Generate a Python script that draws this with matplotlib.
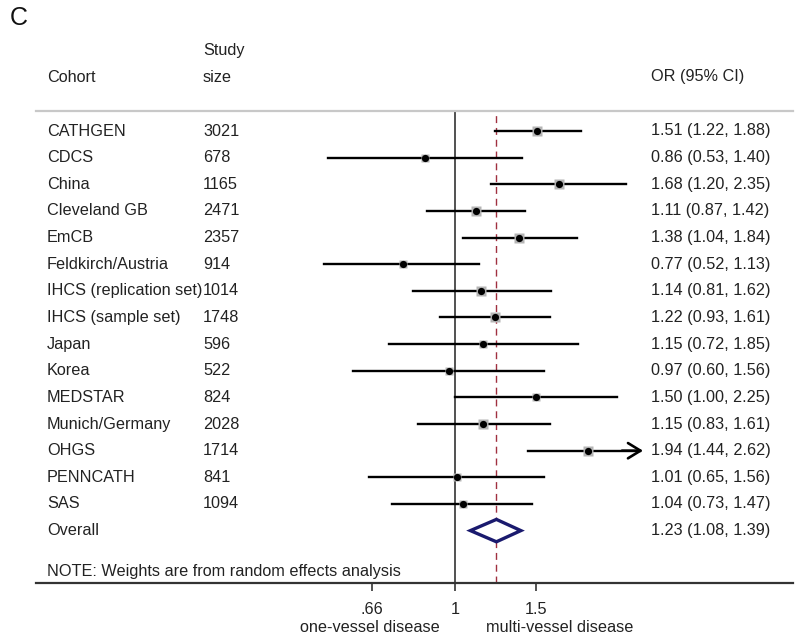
import numpy as np
import matplotlib
matplotlib.use("Agg")
import matplotlib.pyplot as plt
from matplotlib.transforms import blended_transform_factory
from matplotlib.patches import Polygon

plt.rcParams['font.family'] = ['Liberation Sans', 'DejaVu Sans']

# ---------------- data ----------------
cohorts = ["CATHGEN", "CDCS", "China", "Cleveland GB", "EmCB", "Feldkirch/Austria",
           "IHCS (replication set)", "IHCS (sample set)", "Japan", "Korea", "MEDSTAR",
           "Munich/Germany", "OHGS", "PENNCATH", "SAS"]
study_size = [3021, 678, 1165, 2471, 2357, 914, 1014, 1748, 596, 522, 824, 2028, 1714, 841, 1094]
or_est = [1.51, 0.86, 1.68, 1.11, 1.38, 0.77, 1.14, 1.22, 1.15, 0.97, 1.50, 1.15, 1.94, 1.01, 1.04]
ci_low = [1.22, 0.53, 1.20, 0.87, 1.04, 0.52, 0.81, 0.93, 0.72, 0.60, 1.00, 0.83, 1.44, 0.65, 0.73]
ci_high = [1.88, 1.40, 2.35, 1.42, 1.84, 1.13, 1.62, 1.61, 1.85, 1.56, 2.25, 1.61, 2.62, 1.56, 1.47]
weights = [9.0, 5.8, 8.5, 8.5, 7.5, 5.0, 6.8, 8.5, 5.8, 5.8, 4.8, 7.0, 8.0, 5.8, 5.8]
overall = (1.23, 1.08, 1.39)
xticks = [0.66, 1, 1.5]
xticklabels = [".66", "1", "1.5"]

# ---------------- layout ----------------
W, H = 800, 637
fig = plt.figure(figsize=(W / 100, H / 100), dpi=100)

ax_left, ax_right = 36, 793
ax_top, ax_bot = 111, 583
ax = fig.add_axes([ax_left / W, 1 - ax_bot / H, (ax_right - ax_left) / W, (ax_bot - ax_top) / H])
ax.set_xscale('log')
px_per_ln = 200.0
x_one = 455
ax.set_xlim(np.exp((ax_left - x_one) / px_per_ln), np.exp((ax_right - x_one) / px_per_ln))
clip_max = np.exp((643 - x_one) / px_per_ln)

row_px0, row_step = 131, 26.64
ax.set_ylim(1 + (ax_bot - row_px0) / row_step, 1 + (ax_top - row_px0) / row_step)

for s in ['left', 'right']:
    ax.spines[s].set_visible(False)
ax.spines['top'].set_color('#c8c8c8')
ax.spines['top'].set_linewidth(1.6)
ax.spines['bottom'].set_color('#333333')
ax.spines['bottom'].set_linewidth(1.6)
ax.set_yticks([])
ax.set_xticks(xticks)
ax.set_xticklabels(xticklabels, fontsize=11.7, color='#222222')
ax.xaxis.set_minor_locator(matplotlib.ticker.NullLocator())
ax.tick_params(axis='x', direction='out', length=6, width=1.2, color='#333333', pad=8)

rows = np.arange(1, len(cohorts) + 1)
overall_row = len(cohorts) + 1
note_row = overall_row + 1.55

# reference lines
ax.axvline(1, color='#222222', lw=1.1, zorder=1)
ax.axvline(overall[0], color='#a03040', lw=1.0, ls=(0, (5, 3.5)), zorder=1)

# CIs, squares, dots
for r, est, lo, hi, w in zip(rows, or_est, ci_low, ci_high, weights):
    if hi > clip_max:
        ax.plot([lo, clip_max * 0.985], [r, r], color='black', lw=1.7, zorder=2)
        ax.annotate('', xy=(clip_max, r), xytext=(clip_max * 0.9, r),
                    arrowprops=dict(arrowstyle='->,head_length=0.9,head_width=0.55',
                                    lw=1.9, color='black', shrinkA=0, shrinkB=0), zorder=3)
    else:
        ax.plot([lo, hi], [r, r], color='black', lw=1.7, zorder=2)
    ax.plot(est, r, marker='s', ms=2.6 * np.sqrt(w), color='#b4b4b4', mec='none', zorder=3)
    ax.plot(est, r, marker='o', ms=5.2, color='black', mec='none', zorder=4)

# overall diamond
est, lo, hi = overall
hh = 0.42
diamond = Polygon([(lo, overall_row), (est, overall_row - hh), (hi, overall_row), (est, overall_row + hh)],
                  closed=True, facecolor='white', edgecolor='#1a1a6e', lw=2.4, zorder=3)
ax.add_patch(diamond)

# text columns
trans = blended_transform_factory(fig.transFigure, ax.transData)
fs = 11.7
tc = '#222222'
x_cohort, x_size, x_or = 47 / W, 203 / W, 651 / W
for r, name, n, e, l, h in zip(rows, cohorts, study_size, or_est, ci_low, ci_high):
    ax.text(x_cohort, r, name, transform=trans, ha='left', va='center', fontsize=fs, color=tc)
    ax.text(x_size, r, str(n), transform=trans, ha='left', va='center', fontsize=fs, color=tc)
    ax.text(x_or, r, f"{e:.2f} ({l:.2f}, {h:.2f})", transform=trans, ha='left', va='center',
            fontsize=fs, color=tc)
ax.text(x_cohort, overall_row, "Overall", transform=trans, ha='left', va='center', fontsize=fs, color=tc)
ax.text(x_or, overall_row, f"{overall[0]:.2f} ({overall[1]:.2f}, {overall[2]:.2f})", transform=trans,
        ha='left', va='center', fontsize=fs, color=tc)
ax.text(x_cohort, note_row, "NOTE: Weights are from random effects analysis", transform=trans,
        ha='left', va='center', fontsize=fs, color=tc)

# headers
fig.text(x_cohort, 1 - 77 / H, "Cohort", ha='left', va='center', fontsize=fs, color=tc)
fig.text(x_size, 1 - 51 / H, "Study", ha='left', va='center', fontsize=fs, color=tc)
fig.text(x_size, 1 - 77 / H, "size", ha='left', va='center', fontsize=fs, color=tc)
fig.text(x_or, 1 - 77 / H, "OR (95% CI)", ha='left', va='center', fontsize=fs, color=tc)
fig.text(10 / W, 1 - 18 / H, "C", ha='left', va='center', fontsize=18, color='#111111')

# favours labels
fig.text(370 / W, 1 - 627 / H, "one-vessel disease", ha='center', va='center', fontsize=fs, color=tc)
fig.text(560 / W, 1 - 627 / H, "multi-vessel disease", ha='center', va='center', fontsize=fs, color=tc)

fig.savefig("out.png", dpi=100, facecolor='white')
